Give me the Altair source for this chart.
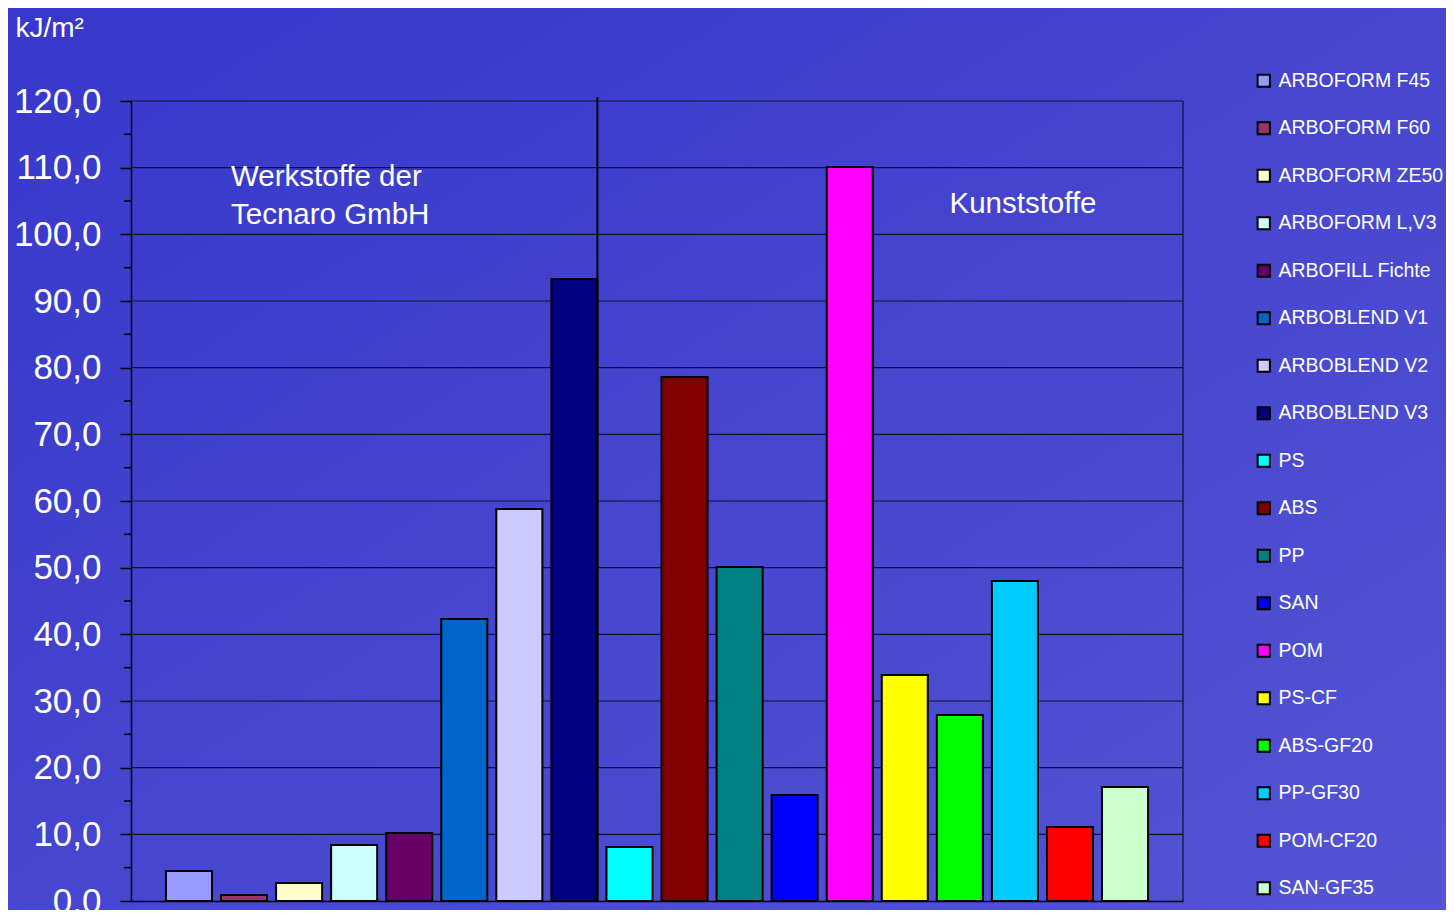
import altair as alt
import pandas as pd

names = ["ARBOFORM F45", "ARBOFORM F60", "ARBOFORM ZE50", "ARBOFORM L,V3",
         "ARBOFILL Fichte", "ARBOBLEND V1", "ARBOBLEND V2", "ARBOBLEND V3",
         "PS", "ABS", "PP", "SAN", "POM", "PS-CF", "ABS-GF20", "PP-GF30",
         "POM-CF20", "SAN-GF35"]
values = [4.5, 0.9, 2.7, 8.4, 10.2, 42.3, 58.8, 93.3,
          8.1, 78.6, 50.1, 15.9, 110.1, 33.9, 27.9, 48.0, 11.1, 17.1]
colors = ["#9999ff", "#993366", "#ffffcc", "#ccffff", "#660066", "#0066cc",
          "#ccccff", "#000080", "#00ffff", "#800000", "#008080", "#0000ff",
          "#ff00ff", "#ffff00", "#00ff00", "#00ccff", "#ff0000", "#ccffcc"]
tick_values = [0, 10, 20, 30, 40, 50, 60, 70, 80, 90, 100, 110, 120]
grid_values = [10, 20, 30, 40, 50, 60, 70, 80, 90, 100, 110, 120]
minor_values = [5, 15, 25, 35, 45, 55, 65, 75, 85, 95, 105, 115]

W, H = 1052, 800
PL, PT, PR, PB = 123, 93, 263, 9
FONT = "Liberation Sans"

df = pd.DataFrame({"name": names, "value": values})

yscale = alt.Scale(domain=[0, 120], nice=False)
yaxis = alt.Axis(values=tick_values, grid=False,
                 labelExpr="replace(format(datum.value, '.1f'), '.', ',')",
                 labelFontSize=35, labelColor="white", labelFont=FONT,
                 labelPadding=19, tickSize=11, tickColor="#000000",
                 tickWidth=1.5, domainColor="#000000", domainWidth=1.5,
                 title="kJ/m²", titleAngle=0, titleAlign="left",
                 titleBaseline="alphabetic", titleX=-116, titleY=-65,
                 titleFontSize=28, titleFontWeight="normal",
                 titleColor="white", titleFont=FONT, zindex=1)

bg = alt.Chart(pd.DataFrame({"a": [0]})).mark_rect(
    fill=alt.Gradient(gradient="linear", x1=0, y1=0, x2=1, y2=1,
                      stops=[alt.GradientStop(color="#3737cb", offset=0),
                             alt.GradientStop(color="#5454d3", offset=1)])
).encode(x=alt.value(-PL), x2=alt.value(W + PR), y=alt.value(-PT), y2=alt.value(H + PB))

grid = alt.Chart(pd.DataFrame({"value": grid_values})).mark_rule(
    color="#101030", strokeWidth=1.2
).encode(y=alt.Y("value:Q", scale=yscale, axis=yaxis))

minor = alt.Chart(pd.DataFrame({"value": minor_values})).mark_rule(
    color="#000000", strokeWidth=1.5
).encode(y=alt.Y("value:Q", scale=yscale, axis=yaxis), x=alt.value(-7), x2=alt.value(0))

right_border = alt.Chart(pd.DataFrame({"a": [0]})).mark_rule(
    color="#101030", strokeWidth=1.2
).encode(x=alt.value(W), y=alt.value(0), y2=alt.value(H))

xaxis = alt.Axis(title=None, labels=False, ticks=False, domain=True,
                 domainColor="#000000", domainWidth=1.5, zindex=1)
xscale = alt.Scale(domain=names, paddingInner=0.164, paddingOuter=0.635)

bars = alt.Chart(df).mark_bar(stroke="#000000", strokeWidth=2).encode(
    x=alt.X("name:N", sort=names, scale=xscale, axis=xaxis),
    y=alt.Y("value:Q", scale=yscale, axis=yaxis),
    color=alt.Color("name:N", sort=names,
                    scale=alt.Scale(domain=names, range=colors),
                    legend=alt.Legend(title=None, orient="none", legendX=1123,
                                      legendY=-30, symbolType="square",
                                      symbolSize=150, symbolStrokeColor="#000000",
                                      symbolStrokeWidth=2, symbolOpacity=1,
                                      labelColor="white", labelFontSize=19.5,
                                      labelFont=FONT, labelLimit=300,
                                      labelOffset=5, rowPadding=26.5,
                                      padding=0)),
)

divider = alt.Chart(pd.DataFrame({"a": [0]})).mark_rule(
    color="#000000", strokeWidth=2
).encode(x=alt.X(datum="ARBOBLEND V3", type="nominal", bandPosition=1,
                 scale=xscale, axis=xaxis),
         y=alt.value(-4), y2=alt.value(H))

txt1 = alt.Chart(pd.DataFrame({"t": ["Werkstoffe der\nTecnaro GmbH"]})).mark_text(
    align="left", baseline="alphabetic", fontSize=29.5, font=FONT, color="white",
    lineBreak="\n", lineHeight=38
).encode(text="t:N", x=alt.value(100), y=alt.value(85))

txt2 = alt.Chart(pd.DataFrame({"t": ["Kunststoffe"]})).mark_text(
    align="center", baseline="alphabetic", fontSize=29.5, font=FONT, color="white"
).encode(text="t:N", x=alt.value(892), y=alt.value(112))

chart = alt.layer(bg, grid, minor, right_border, bars, divider, txt1, txt2).properties(
    width=W, height=H,
    padding={"left": PL, "top": PT, "right": PR, "bottom": PB},
    autosize=alt.AutoSizeParams(type="none"),
    background="#4545cf",
).configure_view(stroke=None)

chart.save("out.html", embed_options={"renderer": "svg", "actions": False})
